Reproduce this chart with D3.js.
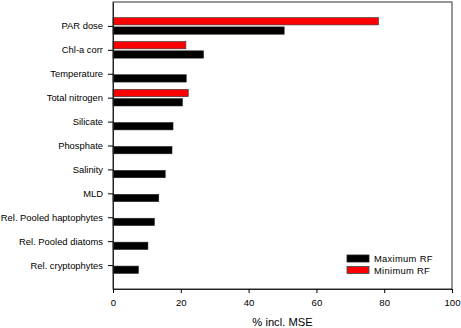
<!DOCTYPE html>
<html lang="en">
<head>
<meta charset="UTF-8">
<title>% incl. MSE</title>
<script src="https://d3js.org/d3.v7.min.js"></script>
<style>
  body { margin: 0; background: #fff; }
  svg { display: block; font-family: "Liberation Sans", Arial, sans-serif; }
</style>
</head>
<body>
<div id="chart"></div>
<script>
const categories = [
  "PAR dose", "Chl-a corr", "Temperature", "Total nitrogen", "Silicate",
  "Phosphate", "Salinity", "MLD", "Rel. Pooled haptophytes",
  "Rel. Pooled diatoms", "Rel. cryptophytes"
];
// null = no bar for that variable
const maxRF = [50.5, 26.7, 21.6, 20.5, 17.7, 17.4, 15.4, 13.5, 12.2, 10.3, 7.5];
const minRF = [78.3, 21.5, null, 22.2, null, null, null, null, null, null, null];
const xTicks = [0, 20, 40, 60, 80, 100];
const seriesNames = ["Maximum RF", "Minimum RF"];

const w = 461, h = 328;
const padLeft = 113, padRight = 452, padTop = 2, padBottom = 289;

const svg = d3.select("#chart").append("svg")
  .attr("width", w)
  .attr("height", h);

const x = d3.scaleLinear().domain([0, 100]).range([padLeft, padRight]);
const y = d3.scalePoint().domain(categories).range([padTop, padBottom]).padding(1);
const barH = 7.3;

// frame
svg.append("rect")
  .attr("x", padLeft).attr("y", padTop)
  .attr("width", padRight - padLeft).attr("height", padBottom - padTop)
  .attr("fill", "none")
  .attr("stroke", "#333")
  .attr("stroke-width", 1);

// red (minimum) bars above the tick, black (maximum) below
svg.selectAll("rect.min")
  .data(categories.map((c, i) => ({ c, v: minRF[i] })).filter(d => d.v != null))
  .enter().append("rect")
  .attr("class", "min")
  .attr("x", x(0))
  .attr("y", d => y(d.c) - barH - 1)
  .attr("width", d => x(d.v) - x(0))
  .attr("height", barH)
  .attr("fill", "#ff0000")
  .attr("stroke", "#333")
  .attr("stroke-width", 0.6);

svg.selectAll("rect.max")
  .data(categories.map((c, i) => ({ c, v: maxRF[i] })))
  .enter().append("rect")
  .attr("class", "max")
  .attr("x", x(0))
  .attr("y", d => y(d.c) + 1)
  .attr("width", d => x(d.v) - x(0))
  .attr("height", barH)
  .attr("fill", "#000")
  .attr("stroke", "#222")
  .attr("stroke-width", 0.6);

// axes
const yAxis = d3.axisLeft(y).tickSize(5).tickPadding(5).tickSizeOuter(0);
const gy = svg.append("g")
  .attr("transform", "translate(" + padLeft + ",0)")
  .call(yAxis);
gy.select(".domain").attr("stroke", "#222");
gy.selectAll("text").style("font-size", "9.4px").attr("fill", "#000");

const xAxis = d3.axisBottom(x).tickValues(xTicks).tickSize(4).tickPadding(6).tickSizeOuter(0);
const gx = svg.append("g")
  .attr("transform", "translate(0," + padBottom + ")")
  .call(xAxis);
gx.select(".domain").attr("stroke", "#222");
gx.selectAll("text").style("font-size", "9.6px").attr("fill", "#000");

svg.append("text")
  .attr("x", (padLeft + padRight) / 2)
  .attr("y", 326)
  .attr("text-anchor", "middle")
  .style("font-size", "11.2px")
  .text("% incl. MSE");

// legend
const legend = svg.append("g").attr("transform", "translate(347,255)");
const legendColors = ["#000", "#ff0000"];
legend.selectAll("rect")
  .data(seriesNames)
  .enter().append("rect")
  .attr("x", 0)
  .attr("y", (d, i) => i * 11.5)
  .attr("width", 22)
  .attr("height", 7)
  .attr("fill", (d, i) => legendColors[i])
  .attr("stroke", (d, i) => i === 0 ? "#222" : "#2f5050")
  .attr("stroke-width", 0.8);
legend.selectAll("text")
  .data(seriesNames)
  .enter().append("text")
  .attr("x", 27)
  .attr("y", (d, i) => i * 11.5 + 7)
  .style("font-size", "9.4px")
  .style("letter-spacing", "0.3px")
  .text(d => d);
</script>
</body>
</html>
